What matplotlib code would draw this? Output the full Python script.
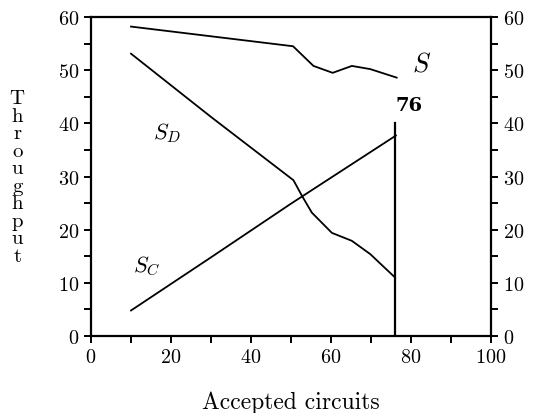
import matplotlib
matplotlib.use("Agg")
import matplotlib.pyplot as plt
from matplotlib.ticker import MultipleLocator

plt.rcParams["font.family"] = ["cmr10", "DejaVu Serif"]
plt.rcParams["mathtext.fontset"] = "cm"
plt.rcParams["axes.formatter.use_mathtext"] = True

# curves
s_x = [10, 50.5, 55.6, 60.4, 65.2, 69.8, 76.4]
s_y = [58.2, 54.5, 50.8, 49.5, 50.8, 50.2, 48.6]

sd_x = [10, 30, 50.6, 52.7, 55.2, 60.2, 65.2, 69.8, 76]
sd_y = [53.1, 41.2, 29.3, 26.4, 23.2, 19.4, 17.9, 15.4, 11.0]

sc_x = [10, 30, 50, 76.2]
sc_y = [4.8, 14.8, 24.9, 37.7]

limit_x = 76
limit_top = 40

fig = plt.figure(figsize=(5.37, 4.14), dpi=100)
ax = fig.add_axes([0.1695, 0.186, 0.745, 0.7705])

kw = dict(color="black", linewidth=1.3)
ax.plot(s_x, s_y, **kw)
ax.plot(sd_x, sd_y, **kw)
ax.plot(sc_x, sc_y, **kw)
ax.plot([limit_x, limit_x], [0, limit_top], color="black", linewidth=1.6)

ax.text(limit_x, limit_top + 1.8, str(limit_x), fontsize=14, fontweight="bold",
        family="DejaVu Serif", ha="left", va="bottom")
ax.text(82.5, 51.2, r"$S$", fontsize=19, ha="center", va="center")
ax.text(19, 38.3, r"$S_D$", fontsize=16, ha="center", va="center")
ax.text(14, 13.2, r"$S_C$", fontsize=16, ha="center", va="center")

ax.set_xlim(0, 100)
ax.set_ylim(0, 60)
ax.xaxis.set_major_locator(MultipleLocator(20))
ax.xaxis.set_minor_locator(MultipleLocator(10))
ax.yaxis.set_major_locator(MultipleLocator(10))
ax.yaxis.set_minor_locator(MultipleLocator(5))
ax.tick_params(which="both", direction="out", length=5, width=1.4,
               labelsize=14.5, top=False, right=True, labelright=True)
for sp in ax.spines.values():
    sp.set_linewidth(1.6)

fig.text(0.541, 0.027, "Accepted circuits", fontsize=17, ha="center",
         va="center")
fig.text(0.032, 0.57, "\n".join("Throughput"), fontsize=15, ha="center",
         va="center", linespacing=0.97)

fig.savefig("out.png", dpi=100)
